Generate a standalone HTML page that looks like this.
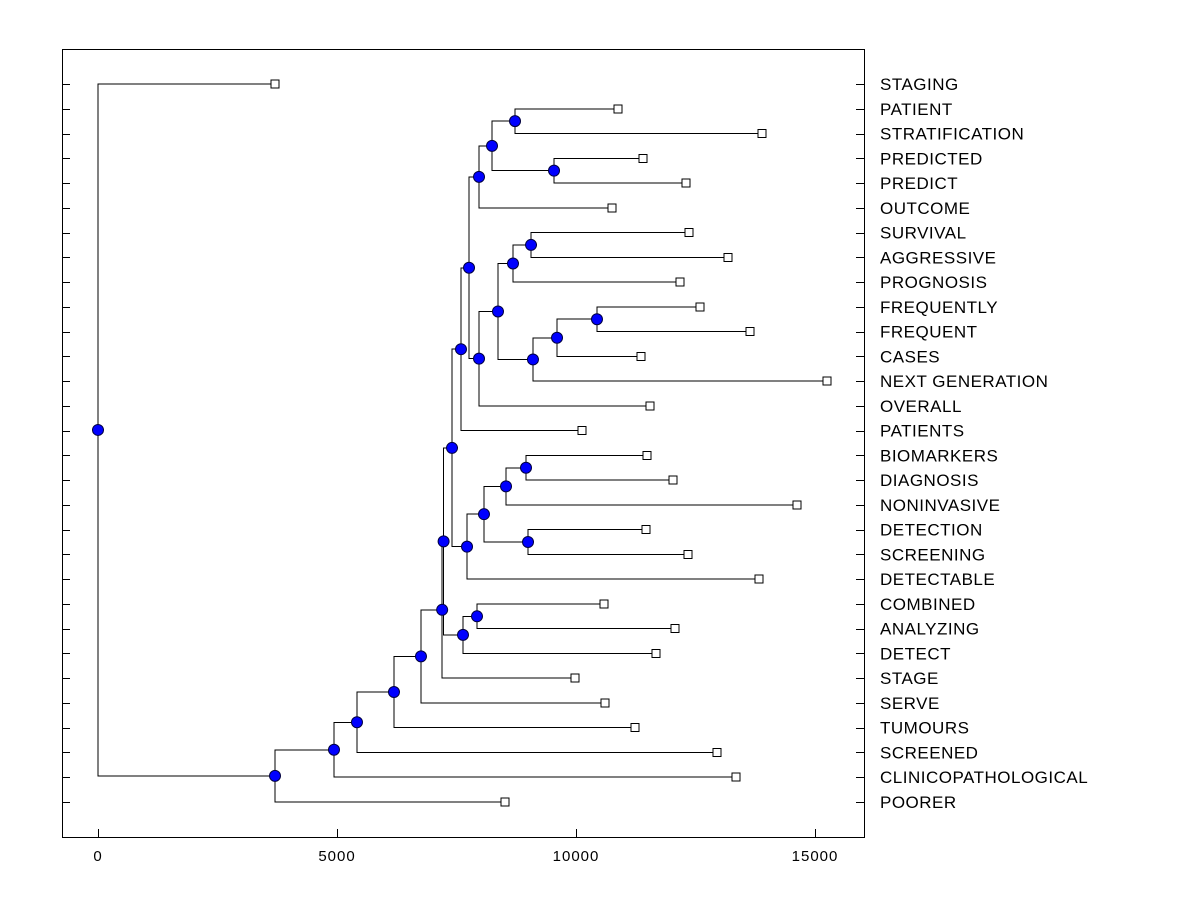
<!DOCTYPE html>
<html><head><meta charset="utf-8"><style>
body{margin:0;background:#fff}
svg{display:block;font-family:"Liberation Sans",Arial,sans-serif}
</style></head><body>
<svg id="c" width="1200" height="900" shape-rendering="crispEdges"></svg>
<script>
const leaves=["STAGING","PATIENT","STRATIFICATION","PREDICTED","PREDICT","OUTCOME","SURVIVAL","AGGRESSIVE","PROGNOSIS","FREQUENTLY","FREQUENT","CASES","NEXT GENERATION","OVERALL","PATIENTS","BIOMARKERS","DIAGNOSIS","NONINVASIVE","DETECTION","SCREENING","DETECTABLE","COMBINED","ANALYZING","DETECT","STAGE","SERVE","TUMOURS","SCREENED","CLINICOPATHOLOGICAL","POORER"];
const leafValues=[3703,10879,13891,11402,12301,10753,12364,13180,12176,12594,13640,11360,15251,11548,10126,11485,12029,14623,11464,12343,13828,10586,12071,11674,9979,10607,11234,12950,13347,8515];
// merges: [childA, childB, height]; leaf refs are "L<index>", node refs "N<index>"
const merges=[
["L1","L2",8724],["L3","L4",9540],["N0","N1",8243],["N2","L5",7971],
["L6","L7",9059],["N4","L8",8682],["L9","L10",10439],["N6","L11",9603],
["N7","L12",9100],["N5","N8",8368],["N9","L13",7971],["N3","N10",7762],
["N11","L14",7594],["L15","L16",8954],["N13","L17",8536],["L18","L19",8996],
["N14","N15",8075],["N16","L20",7720],["N12","N17",7406],["L21","L22",7929],
["N19","L23",7636],["N18","N20",7230],["N21","L24",7200],["N22","L25",6757],
["N23","L26",6192],["N24","L27",5418],["N25","L28",4937],["N26","L29",3703],
["L0","N27",0]];
const xTicks=[0,5000,10000,15000];

const svg=document.getElementById('c'),NS="http://www.w3.org/2000/svg";
const X=v=>98+v*239/5000, Y=i=>84+i*(802-84)/29;
function mk(t,a,p){const e=document.createElementNS(NS,t);for(const k in a)e.setAttribute(k,a[k]);(p||svg).appendChild(e);return e;}
const frame=mk('rect',{x:62.5,y:49.5,width:802,height:788,fill:'none',stroke:'#000'});


leaves.forEach((l,i)=>{
 const y=Math.round(Y(i))+0.5;
 const t1=mk('line',{x1:62,x2:70,y1:y,y2:y,stroke:'#000'});
 
 
 const t2=mk('line',{x1:856,x2:864,y1:y,y2:y,stroke:'#000'});
 
 
 const tx=mk('text',{x:880,y:Y(i)+6,'font-size':17,'letter-spacing':0.5,fill:'#000'});tx.textContent=l;
 
 
});
xTicks.forEach(v=>{
 const x=Math.round(X(v))+0.5;
 const t=mk('line',{x1:x,x2:x,y1:829,y2:837,stroke:'#000'});
 
 
 const tx=mk('text',{x:X(v),y:861,'font-size':15,'letter-spacing':1,'text-anchor':'middle',fill:'#000'});tx.textContent=v;
 
 
});
const nodes=[];
function pos(r){const i=+r.slice(1);return r[0]=='L'?{x:X(leafValues[i]),y:Y(i)}:nodes[i];}
const lines=mk('g',{stroke:'#000',fill:'none'});
merges.forEach(m=>{
 const a=pos(m[0]),b=pos(m[1]),x=X(m[2]);
 nodes.push({x:x,y:(a.y+b.y)/2});
 const p=mk('path',{d:`M${a.x},${a.y}H${x}V${b.y}H${b.x}`},lines);
 
 
});
leaves.forEach((l,i)=>{
 const r=mk('rect',{x:X(leafValues[i])-4,y:Y(i)-4,width:8,height:8,fill:'#fff',stroke:'#000'});
 
 
});
nodes.forEach(n=>{
 const c=mk('circle',{cx:n.x,cy:n.y,r:5.5,fill:'#0000ff',stroke:'#000040','shape-rendering':'auto'});
 
 
});
</script>
</body></html>
